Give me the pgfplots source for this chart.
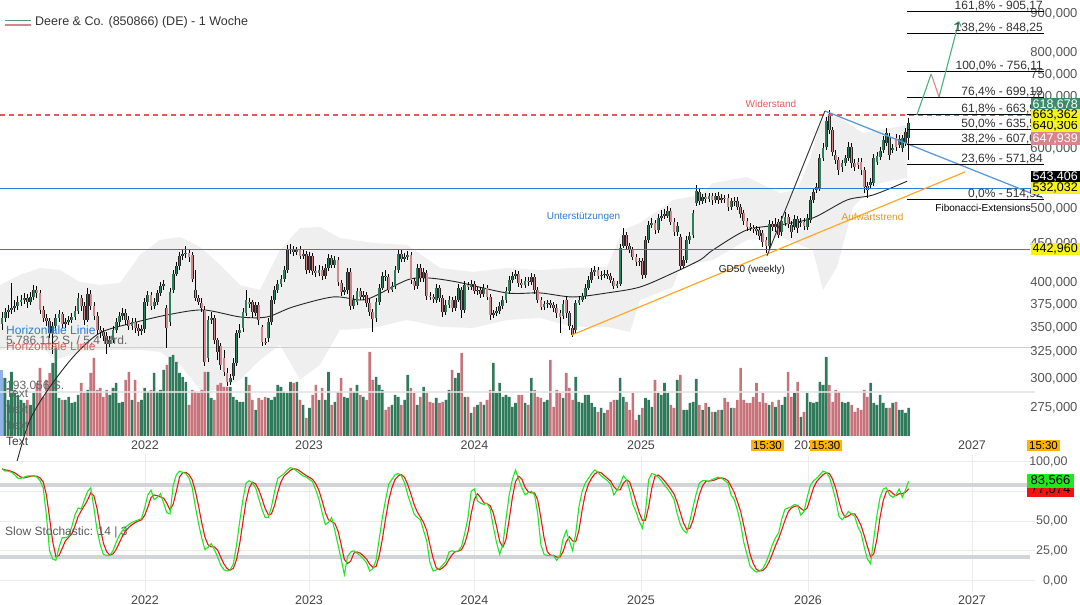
\documentclass[border=0pt]{standalone}
\usepackage{pgfplots}
\pgfplotsset{compat=1.18}
\usepackage{pgfplotstable}
\usepackage{fontspec}
\setmainfont{Liberation Sans}
\usetikzlibrary{arrows.meta}
\newcommand\fs[1]{\fontsize{#1}{#1}\selectfont}
\definecolor{bandgray}{HTML}{EFEFEF}
\definecolor{cgreen}{HTML}{2E7D5B}
\definecolor{cred}{HTML}{D4868D}
\definecolor{vgreen}{HTML}{2F7A5A}
\definecolor{vred}{HTML}{C8737B}
\definecolor{hblue}{HTML}{2F7BD3}
\definecolor{wred}{HTML}{E25B5B}
\definecolor{orng}{HTML}{FFA726}
\definecolor{dblue}{HTML}{5B9BDB}
\definecolor{agreen}{HTML}{4CAF80}
\definecolor{ared}{HTML}{E08585}
\definecolor{stgreen}{HTML}{22E622}
\definecolor{stred}{HTML}{F01414}
\definecolor{bandline}{HTML}{D3D4D8}
\definecolor{gridc}{HTML}{ECECEC}
\definecolor{tickc}{HTML}{555555}
\definecolor{yearc}{HTML}{444444}
\definecolor{boxyel}{HTML}{F4F41C}
\definecolor{boxgrn}{HTML}{3E8B6C}
\definecolor{boxred}{HTML}{D9858D}
\definecolor{boxorg}{HTML}{FFB300}
\definecolor{vline}{HTML}{CFCFCF}
\definecolor{vline2}{HTML}{E2E2E2}
\definecolor{lblue}{HTML}{8FB3E8}

\pgfplotstableread{
i o h l c v k d
0 353.6 366.6 347.2 360.0 3.81 94 94
1 360.0 371.1 355.7 366.6 3.81 92 93
2 366.6 374.4 360.0 368.8 2.37 92 92.7
3 368.8 400.0 364.4 371.1 4.21 91 91.7
4 371.1 380.0 366.6 373.3 3.02 89 90.7
5 373.3 384.6 368.8 377.8 2.70 86 88.7
6 377.8 385.8 373.3 380.0 2.37 86 87
7 380.0 388.2 375.5 382.3 2.17 87 86.3
8 382.3 387.0 371.1 377.8 2.37 88 87
9 377.8 389.3 374.4 383.5 2.04 88 87.7
10 383.5 397.6 380.0 391.7 2.83 88 88
11 391.7 396.4 382.3 388.2 3.48 87 87.7
12 388.2 391.7 364.4 368.8 4.47 84 86.3
13 368.8 373.3 355.7 360.0 2.56 78 83
14 360.0 364.4 351.4 356.7 3.68 55 72.3
15 356.7 360.0 338.9 344.1 4.14 25 52.7
16 344.1 355.7 323.0 351.4 4.80 18 32.7
17 351.4 364.4 347.2 360.0 5.85 17 20
18 360.0 368.8 355.7 364.4 2.50 28 21
19 364.4 366.6 349.3 353.6 2.37 36 27
20 353.6 360.0 349.3 355.7 2.37 36 33.3
21 355.7 362.2 352.5 357.8 2.56 37 36.3
22 357.8 365.5 354.6 361.1 2.17 45 39.3
23 361.1 373.3 357.8 367.7 2.24 55 45.7
24 367.7 388.2 364.4 382.3 2.70 61 53.7
25 382.3 385.8 367.7 373.3 3.48 60 58.7
26 373.3 377.8 352.5 357.8 2.83 68 63
27 357.8 394.1 355.7 387.0 3.02 75 67.7
28 387.0 391.7 368.8 373.3 4.14 78 73.7
29 373.3 377.8 357.8 362.2 5.13 61 71.3
30 362.2 366.6 343.0 347.2 3.02 42 60.3
31 347.2 351.4 338.9 345.1 3.16 30 44.3
32 345.1 349.3 335.9 341.0 2.56 22 31.3
33 341.0 345.1 323.0 332.9 3.02 21 24.3
34 332.9 341.0 329.9 336.9 2.70 21 21.3
35 336.9 351.4 333.9 347.2 3.16 25 22.3
36 347.2 360.0 344.1 355.7 3.48 32 26
37 355.7 366.6 351.4 362.2 2.17 38 31.7
38 362.2 371.1 357.8 365.5 2.24 42 37.3
39 365.5 369.9 352.5 357.8 3.68 45 41.7
40 357.8 362.2 347.2 351.4 4.21 47 44.7
41 351.4 360.0 347.2 355.7 2.37 49 47
42 355.7 360.0 344.1 349.3 3.68 50 48.7
43 349.3 353.6 341.0 346.2 2.24 51 50
44 346.2 352.5 342.0 348.3 2.37 52 51
45 348.3 382.3 344.1 377.8 3.16 61 54.7
46 377.8 390.5 373.3 385.8 2.89 72 61.7
47 385.8 389.3 368.8 373.3 3.02 76 69.7
48 373.3 382.3 369.9 377.8 4.14 68 72
49 377.8 391.7 374.4 388.2 2.89 70 71.3
50 388.2 401.2 384.6 396.4 3.02 73 70.3
51 396.4 403.6 391.7 398.8 4.34 65 69.3
52 371.1 374.4 328.9 349.3 4.67 57 65
53 355.7 394.1 351.4 389.3 5.19 56 59.3
54 391.7 415.9 388.2 411.0 5.33 80 64.3
55 411.0 426.1 408.6 421.0 4.87 89 75
56 421.0 439.2 415.9 433.9 4.14 92 87
57 433.9 441.8 428.7 436.5 3.88 91 90.7
58 436.5 447.2 431.3 437.8 3.55 90 91
59 437.8 443.1 426.1 432.6 2.04 86 89
60 435.2 439.2 401.2 404.8 3.02 78 84.7
61 391.7 415.9 378.9 382.3 2.89 62 75.3
62 382.3 385.8 374.4 377.8 2.83 48 62.7
63 376.7 382.3 366.6 371.1 3.02 36 48.7
64 368.8 373.3 311.6 315.3 4.21 26 36.7
65 319.1 362.2 315.3 357.8 4.21 28 30
66 357.8 366.6 353.6 360.0 2.50 31 28.3
67 360.0 363.3 332.9 336.9 2.37 26 28.3
68 336.9 338.9 317.2 325.0 3.35 20 25.7
69 330.9 333.9 307.8 312.5 3.48 13 19.7
70 319.1 326.9 302.3 306.0 3.22 9 14
71 305.1 309.7 293.3 296.9 3.22 8 10
72 296.9 304.1 294.2 300.5 3.22 9 8.7
73 302.3 319.1 298.7 314.4 2.56 14 10.3
74 314.4 347.2 311.6 344.1 2.37 30 17.7
75 344.1 353.6 338.9 347.2 2.24 50 31.3
76 349.3 371.1 345.1 366.6 2.24 68 49.3
77 365.5 391.7 362.2 380.0 3.88 82 66.7
78 377.8 382.3 371.1 375.5 3.35 84 78
79 377.8 380.0 360.0 366.6 2.37 82 82.7
80 365.5 377.8 362.2 374.4 1.71 78 81.3
81 374.4 377.8 352.5 357.8 2.50 69 76.3
82 350.4 352.5 330.9 334.9 2.37 60 69
83 334.9 338.9 331.9 333.9 2.56 53 60.7
84 338.9 360.0 334.9 355.7 2.50 53 55.3
85 355.7 384.6 352.5 380.0 2.37 62 56
86 380.0 396.4 375.5 391.7 2.56 75 63.3
87 391.7 403.6 388.2 398.8 3.35 86 74.3
88 398.8 409.8 395.2 404.8 3.22 88 83
89 404.8 421.0 401.2 415.9 2.89 90 88
90 415.9 448.5 412.2 441.8 2.83 93 90.3
91 441.8 449.9 436.5 443.1 3.55 95 92.7
92 443.1 447.2 433.9 439.2 3.48 94 94
93 439.2 445.8 435.2 441.8 3.55 92 93.7
94 441.8 447.2 430.0 433.9 2.37 90 92
95 433.9 441.8 430.0 436.5 2.04 88 90
96 436.5 440.5 411.0 415.9 1.18 87 88.3
97 415.9 439.2 412.2 433.9 1.84 85 86.7
98 433.9 437.8 409.8 414.7 2.70 83 85
99 414.7 421.0 407.3 412.2 3.35 76 81.3
100 412.2 422.3 408.6 415.9 2.37 68 75.7
101 415.9 421.0 403.6 408.6 3.16 57 67
102 408.6 423.6 404.8 418.5 2.37 47 57.3
103 418.5 436.5 414.7 431.3 4.21 49 51
104 431.3 435.2 418.5 422.3 2.04 53 49.7
105 422.3 433.9 418.5 428.7 2.24 42 48
106 428.7 432.6 396.4 401.2 2.89 30 41.7
107 400.0 403.6 384.6 389.3 3.81 18 30
108 389.3 395.2 385.8 391.7 2.56 5 17.7
109 391.7 418.5 387.0 413.5 2.50 20 14.3
110 413.5 418.5 368.8 373.3 3.16 24 16.3
111 373.3 385.8 369.9 380.0 2.89 25 23
112 377.8 394.1 374.4 390.5 3.35 23 24
113 390.5 394.1 380.0 383.5 2.70 21 23
114 383.5 390.5 380.0 385.8 2.56 18 20.7
115 385.8 389.3 372.2 376.7 2.37 15 18
116 376.7 381.2 362.2 366.6 5.52 8 13.7
117 366.6 369.9 345.1 358.9 3.68 10 11
118 360.0 382.3 355.7 377.8 3.88 17 11.7
119 377.8 398.8 374.4 394.1 3.35 35 20.7
120 394.1 413.5 391.7 408.6 3.02 53 35
121 408.6 415.9 402.4 407.3 1.71 68 52
122 407.3 411.0 388.2 391.7 1.91 81 67.3
123 391.7 401.2 389.3 396.4 2.04 85 78
124 396.4 421.0 392.9 415.9 2.70 89 85
125 415.9 441.8 412.2 436.5 2.56 90 88
126 436.5 441.8 426.1 430.0 2.04 88 89
127 430.0 437.8 426.1 432.6 2.37 82 86.7
128 432.6 440.5 428.7 435.2 4.01 72 80.7
129 435.2 439.2 398.8 403.6 3.16 64 72.7
130 402.4 406.1 391.7 396.4 2.83 56 64
131 396.4 423.6 392.9 418.5 2.04 53 57.7
132 418.5 423.6 401.2 406.1 2.56 51 53.3
133 406.1 418.5 401.2 413.5 3.22 42 48.7
134 412.2 415.9 380.0 384.6 2.83 33 42
135 384.6 389.3 380.0 383.5 2.24 15 30
136 383.5 387.0 376.7 381.2 2.17 8 18.7
137 380.0 398.8 376.7 394.1 2.50 9 10.7
138 394.1 397.6 377.8 382.3 2.17 10 9
139 382.3 385.8 361.1 366.6 2.24 13 10.7
140 366.6 380.0 363.3 374.4 2.37 16 13
141 374.4 384.6 371.1 380.0 3.02 24 17.7
142 380.0 383.5 366.6 371.1 4.34 25 21.7
143 371.1 384.6 367.7 380.0 3.81 24 24.3
144 380.0 398.8 377.8 394.1 4.14 25 24.7
145 391.7 395.2 360.0 368.8 5.46 29 26
146 368.8 402.4 365.5 397.6 2.56 40 31.3
147 397.6 401.2 391.7 395.2 2.56 53 40.7
148 395.2 403.6 391.7 398.8 1.51 75 56
149 398.8 402.4 387.0 390.5 1.91 77 68.3
150 390.5 395.2 385.8 391.7 2.04 67 73
151 391.7 395.2 382.3 387.0 2.24 65 69.7
152 387.0 398.8 383.5 394.1 2.04 64 65.3
153 394.1 397.6 380.0 383.5 2.37 65 64.7
154 383.5 387.0 357.8 363.3 3.02 60 63
155 363.3 368.8 360.0 365.5 4.80 45 56.7
156 365.5 372.2 362.2 367.7 2.83 32 45.7
157 367.7 377.8 364.4 373.3 3.48 22 33
158 373.3 384.6 369.9 380.0 2.56 30 28
159 380.0 395.2 376.7 390.5 2.70 52 34.7
160 390.5 408.6 387.0 403.6 2.56 72 51.3
161 403.6 413.5 400.0 408.6 1.91 85 69.7
162 408.6 415.9 404.8 411.0 2.17 93 83.3
163 411.0 414.7 395.2 400.0 2.70 85 87.7
164 400.0 404.8 394.1 397.6 2.70 78 85.3
165 397.6 407.3 394.1 402.4 2.17 72 78.3
166 402.4 407.3 396.4 401.2 2.04 74 74.7
167 401.2 412.2 397.6 407.3 3.81 75 73.7
168 407.3 411.0 387.0 391.7 3.02 72 73.7
169 391.7 395.2 376.7 380.0 2.56 56 67.7
170 380.0 383.5 368.8 372.2 2.50 30 52.7
171 372.2 378.9 368.8 375.5 2.24 22 36
172 375.5 380.0 371.1 376.7 2.37 21 24.3
173 376.7 380.0 371.1 374.4 5.00 21 21.3
174 374.4 377.8 366.6 371.1 1.91 21 21
175 371.1 375.5 360.0 365.5 3.02 17 19.7
176 365.5 368.8 344.1 361.1 2.83 21 19.7
177 362.2 380.0 358.9 375.5 2.50 35 24.3
178 380.0 384.6 360.0 365.5 4.14 42 32.7
179 365.5 367.7 347.2 351.4 3.16 33 36.7
180 349.3 352.5 339.9 342.0 2.37 25 33.3
181 347.2 380.0 344.1 376.7 3.88 40 32.7
182 376.7 384.6 374.4 380.0 2.24 62 42.3
183 380.0 388.2 377.8 384.6 2.17 75 59
184 384.6 398.8 381.2 394.1 2.70 82 73
185 394.1 408.6 391.7 403.6 2.70 86 81
186 403.6 418.5 400.0 413.5 2.17 90 86
187 413.5 421.0 408.6 415.9 1.91 93 89.7
188 415.9 419.8 404.8 408.6 1.58 91 91.3
189 408.6 414.7 403.6 409.8 1.84 88 90.7
190 409.8 415.9 406.1 411.0 1.51 86 88.3
191 411.0 415.9 404.8 408.6 1.71 84 86
192 408.6 412.2 400.0 403.6 2.24 81 83.7
193 402.4 406.1 392.9 396.4 2.37 72 79
194 396.4 402.4 394.1 398.8 2.37 76 76.3
195 398.8 449.9 396.4 444.5 3.81 81 76.3
196 447.2 472.1 444.5 462.2 2.56 88 81.7
197 462.2 466.5 443.1 447.2 2.24 85 84.7
198 447.2 451.2 437.8 441.8 1.71 76 83
199 441.8 445.8 428.7 432.6 2.83 64 75
200 432.6 436.5 421.0 426.1 1.05 58 66
201 426.1 431.3 421.0 427.4 1.38 50 57.3
202 427.4 431.3 404.8 409.8 1.84 44 50.7
203 409.8 460.8 406.1 455.3 2.50 58 50.7
204 455.3 482.2 451.2 476.4 2.37 85 62.3
205 476.4 486.5 472.1 479.3 1.91 90 77.7
206 479.3 483.6 463.7 469.3 3.68 89 88
207 469.3 492.4 465.1 486.5 2.83 87 88.7
208 486.5 498.4 482.2 489.4 2.70 84 86.7
209 489.4 499.9 485.1 492.4 3.48 80 83.7
210 489.4 504.4 486.5 496.9 2.83 77 80.3
211 496.9 501.4 476.4 480.7 2.04 73 76.7
212 480.7 486.5 460.8 466.5 1.84 68 72.7
213 466.5 480.7 460.8 475.0 3.68 56 65.7
214 459.4 463.7 415.9 421.0 4.01 47 57
215 421.0 433.9 418.5 428.7 1.71 42 48.3
216 428.7 460.8 424.9 455.3 1.71 40 43
217 455.3 466.5 449.9 460.8 2.17 50 44
218 462.2 498.4 458.1 493.9 2.24 62 50.7
219 509.0 537.3 504.4 527.7 3.75 73 61.7
220 526.1 532.5 505.9 512.1 2.04 82 72.3
221 512.1 523.0 507.4 518.3 1.71 84 79.7
222 518.3 524.6 509.0 515.2 2.17 84 83.3
223 515.2 524.6 510.5 519.8 1.91 83 83.7
224 519.8 524.6 505.9 513.6 1.58 85 84
225 513.6 524.6 509.0 519.8 1.58 86 84.7
226 519.8 526.1 507.4 513.6 1.71 87 86
227 513.6 523.0 509.0 516.7 1.71 86 86.3
228 516.7 521.4 509.0 515.2 2.50 84 85.7
229 516.7 523.0 496.9 502.9 2.24 82 84
230 502.9 516.7 498.4 512.1 1.84 72 79.3
231 512.1 518.3 504.4 510.5 1.84 68 74
232 512.1 518.3 498.4 502.9 2.37 59 66.3
233 502.9 507.4 486.5 492.4 4.47 48 58.3
234 493.9 498.4 476.4 482.2 2.37 32 46.3
235 482.2 486.5 467.9 473.5 2.17 22 34
236 473.5 479.3 467.9 472.1 2.17 12 22
237 472.1 476.4 465.1 470.7 2.56 9 14.3
238 470.7 475.0 462.2 467.9 3.48 7 9.3
239 469.3 473.5 455.3 460.8 2.24 8 8
240 465.1 469.3 445.8 452.6 2.83 10 8.3
241 455.3 459.4 437.8 447.2 2.17 15 11
242 447.2 483.6 443.1 477.8 2.04 22 15.7
243 477.8 482.2 467.9 473.5 2.24 30 22.3
244 473.5 486.5 466.5 477.8 1.91 36 29.3
245 480.7 485.1 458.1 462.2 2.37 40 35.3
246 466.5 489.4 460.8 482.2 2.04 52 42.7
247 479.3 495.4 475.0 488.0 2.56 60 50.7
248 488.0 492.4 472.1 477.8 4.21 61 57.7
249 476.4 482.2 458.1 466.5 2.56 62 61
250 473.5 490.9 469.3 485.1 2.83 64 62.3
251 485.1 489.4 465.1 472.1 3.55 63 63
252 479.3 486.5 473.5 480.7 1.25 55 60.7
253 480.7 486.5 469.3 475.0 1.58 58 58.7
254 473.5 492.4 469.3 486.5 2.83 70 61
255 483.6 519.8 479.3 513.6 2.24 80 69.3
256 513.6 532.5 509.0 526.1 2.17 84 78
257 529.3 540.6 524.6 534.1 2.24 86 83.3
258 532.5 590.0 527.7 582.9 3.55 89 86.3
259 582.9 609.8 577.7 600.8 3.35 92 89
260 602.6 659.5 597.1 651.6 5.19 91 90.7
261 661.5 673.6 626.6 634.2 3.35 87 90
262 634.2 640.0 586.4 593.6 2.24 78 85.3
263 588.2 597.1 572.4 579.4 3.02 68 77.7
264 579.4 584.7 553.8 562.2 2.89 54 66.7
265 567.3 579.4 558.9 574.2 2.24 51 57.7
266 574.2 588.2 569.0 582.9 2.17 54 53
267 582.9 611.7 577.7 602.6 2.24 58 54.3
268 602.6 609.8 565.6 574.2 2.04 56 56
269 574.2 581.2 560.5 567.3 1.58 54 56
270 575.9 582.9 563.9 570.7 1.84 45 51.7
271 575.9 582.9 553.8 562.2 1.71 40 46.3
272 562.2 567.3 524.6 534.1 3.02 28 37.7
273 535.7 542.3 516.7 529.3 2.56 18 28.7
274 537.3 548.8 530.9 542.3 3.48 14 20
275 540.6 590.0 535.7 582.9 2.17 35 22.3
276 575.9 593.6 570.7 586.4 2.04 55 34.7
277 584.7 602.6 579.4 595.4 2.70 70 53.3
278 597.1 622.8 591.8 615.3 2.17 77 67.3
279 609.8 638.1 604.4 628.5 1.84 78 75
280 620.9 628.5 579.4 588.2 1.84 72 75.7
281 597.1 608.0 591.8 600.8 2.17 70 73.3
282 619.1 626.6 595.4 602.6 2.24 72 71.3
283 606.2 624.7 600.8 617.2 1.71 77 73
284 600.8 624.7 593.6 619.1 1.71 70 73
285 609.8 638.1 604.4 630.4 1.51 76 74.3
286 619.1 657.5 579.4 647.9 1.84 83.6 77.1
}\data

\begin{document}
\begin{tikzpicture}[x=1pt,y=1pt]
\path[use as bounding box] (0,0) rectangle (1080,605);

% ---- A: envelope band
\begin{axis}[scale only axis, width=1035pt, height=437pt, xmin=-0.631, xmax=325.87,
  ymode=log, ymin=251.5, ymax=938.2, at={(0pt,168pt)}, anchor=south west, hide axis]
\addplot[fill=bandgray, draw=none] coordinates {
(-0.6,397.6)(5.7,409.8)(12,418.5)(18.3,415.9)(24.6,401.2)(30.9,397.6)(37.2,400.0)(43.5,435.2)(49.8,455.3)(56.2,459.4)(62.5,445.8)(68.8,422.3)(75.1,397.6)(81.4,391.7)(87.7,441.8)(94,472.1)(100.3,473.5)(106.6,458.1)(117,451.2)(127.8,448.5)(138.2,418.5)(148.6,413.5)(159.3,418.5)(169.7,415.9)(180.1,418.5)(190.9,419.8)(195.9,469.3)(201.3,479.3)(211.7,513.6)(220.2,521.4)(224.3,540.6)(235,550.5)(245.4,524.6)(250.8,529.3)(254.9,579.4)(257.4,634.2)(260,663.5)(264.4,657.5)(271.6,628.5)(282.3,640.0)(285.5,643.8)
(285.5,548.8)(277,540.6)(272.9,524.6)(268.5,502.9)(263.4,419.8)(259,391.7)(255.8,441.8)(245.4,459.4)(235,455.3)(224.3,428.7)(213.9,419.8)(211.7,395.2)(201.3,380.0)(198.1,345.1)(190.9,350.4)(180.1,350.4)(169.7,360.0)(159.3,357.8)(148.6,349.3)(138.2,350.4)(127.8,357.8)(117,349.3)(106.6,347.2)(100.3,312.5)(94,298.7)(87.7,331.9)(81.4,317.2)(75.1,298.7)(68.8,289.8)(62.5,289.8)(56.2,312.5)(49.8,325.0)(43.5,326.9)(37.2,326.9)(30.9,326.9)(24.6,325.0)(16.7,317.2)(12,331.9)(5.7,331.9)(-0.6,326.9)
};
\end{axis}

% ---- B: volume
\begin{axis}[scale only axis, width=1035pt, height=437pt, xmin=-0.631, xmax=325.87,
  ymin=-0.07, ymax=28.66, at={(0pt,168pt)}, anchor=south west, hide axis]
\addplot[ybar, bar width=2.6pt, bar shift=0pt, fill=vgreen, draw=none,
  restrict expr to domain={\thisrow{c}-\thisrow{o}}{0:100000}] table[x=i, y=v]{\data};
\addplot[ybar, bar width=2.6pt, bar shift=0pt, fill=vred, draw=none,
  restrict expr to domain={\thisrow{c}-\thisrow{o}}{-100000:-0.00001}] table[x=i, y=v]{\data};
\addplot[ybar, bar width=3pt, bar shift=0pt, fill=lblue, draw=none] coordinates {(-0.16,4.34)};
\addplot[vline, line width=1pt] coordinates {(-0.631,5.786)(325.87,5.786)};
\addplot[vline2, line width=2pt, opacity=0.8] coordinates {(-0.631,2.893)(325.87,2.893)};
\end{axis}

% ---- C: price panel
\begin{axis}[scale only axis, width=1035pt, height=437pt, xmin=-0.631, xmax=325.87,
  ymode=log, ymin=251.5, ymax=938.2, at={(0pt,168pt)}, anchor=south west, clip=false,
  axis line style={draw=none}, major tick length=0pt,
  ytick={275,300,325,350,375,400,450,500,550,600,650,700,750,800,900},
  yticklabels={{275,000},{300,000},{325,000},{350,000},{375,000},{400,000},{450,000},{500,000},{550,000},{600,000},{650,000},{700,000},{750,000},{800,000},{900,000}},
  yticklabel pos=right,
  yticklabel style={anchor=east, xshift=46pt, font=\fs{13}, text=tickc},
  xtick={45.11,96.85,149.05,201.58,254.26,306.0},
  xticklabels={2022,2023,2024,2025,2026,2027},
  xticklabel style={anchor=center, yshift=-8pt, font=\fs{12.5}, text=yearc}]
% GD50
\addplot[black!85, line width=0.9pt, smooth] coordinates {
(4.7,233.3)(8.8,264.7)(15.1,292.4)(23,322.0)(30.9,344.1)(41.3,354.6)(52.1,363.3)(63.4,368.8)(75.1,361.1)(83.6,361.1)(91.8,372.2)(104.4,383.5)(112.9,380.0)(117,383.5)(127.8,403.6)(134.1,406.1)(143.5,401.2)(159.3,388.2)(169.7,388.2)(180.1,383.5)(190.9,388.2)(201.3,395.2)(211.7,412.2)(220.2,428.7)(224.3,441.8)(235,469.3)(245.4,476.4)(255.8,486.5)(266.6,513.6)(274.8,521.4)(285.5,543.4)};
% candles: wicks
\addplot[draw=none, mark=none, error bars/.cd, y dir=plus, y explicit, error mark=none,
  error bar style={draw=black, line width=0.8pt}]
  table[x=i, y=l, y error plus expr={\thisrow{h}-\thisrow{l}}]{\data};
% bodies outline
\addplot[draw=none, mark=none, error bars/.cd, y dir=plus, y explicit, error mark=none,
  error bar style={draw=black!85, line width=2.8pt}]
  table[x=i, y expr={min(\thisrow{o},\thisrow{c})}, y error plus expr={abs(\thisrow{c}-\thisrow{o})}]{\data};
\addplot[draw=none, mark=none, restrict expr to domain={\thisrow{c}-\thisrow{o}}{0:100000},
  error bars/.cd, y dir=plus, y explicit, error mark=none,
  error bar style={draw=cgreen, line width=1.6pt}]
  table[x=i, y=o, y error plus expr={\thisrow{c}-\thisrow{o}}]{\data};
\addplot[draw=none, mark=none, restrict expr to domain={\thisrow{c}-\thisrow{o}}{-100000:-0.00001},
  error bars/.cd, y dir=plus, y explicit, error mark=none,
  error bar style={draw=cred, line width=1.6pt}]
  table[x=i, y=c, y error plus expr={\thisrow{o}-\thisrow{c}}]{\data};
% horizontal lines
\addplot[wred, line width=1.2pt, dash pattern=on 5pt off 4pt] coordinates {(-0.631,663.362)(327.4,663.362)};
\addplot[hblue, line width=1pt] coordinates {(-0.631,532.032)(328,532.032)};
\addplot[hblue, line width=1pt] coordinates {(-0.631,442.96)(324.3,442.96)};
% trend lines
\addplot[orng, line width=1.2pt] coordinates {(179.8,342.0)(303.8,558.9)};
\addplot[dblue, line width=1.3pt] coordinates {(259.6,671.6)(328.4,516.7)};
\addplot[black!80, line width=0.9pt] coordinates {(241.3,433.9)(259.6,671.6)};
% fibonacci levels
\addplot[black, line width=0.9pt] coordinates {(285.5,905.17)(328.7,905.17)};
\addplot[black, line width=0.9pt] coordinates {(285.5,848.25)(328.7,848.25)};
\addplot[black, line width=0.9pt] coordinates {(285.5,756.11)(328.7,756.11)};
\addplot[black, line width=0.9pt] coordinates {(285.5,699.19)(328.7,699.19)};
\addplot[black, line width=0.9pt] coordinates {(285.5,663.98)(328.7,663.98)};
\addplot[black, line width=0.9pt] coordinates {(285.5,635.52)(328.7,635.52)};
\addplot[black, line width=0.9pt] coordinates {(285.5,607.06)(328.7,607.06)};
\addplot[black, line width=0.9pt] coordinates {(285.5,571.84)(328.7,571.84)};
\addplot[black, line width=0.9pt] coordinates {(285.5,514.92)(328.7,514.92)};
% projected path
\addplot[agreen, line width=1.1pt] coordinates {(288.6,663.5)(293.1,750.7)};
\addplot[ared, line width=1.1pt] coordinates {(293.1,750.7)(295.6,700.4)};
\addplot[agreen, line width=1.1pt, -{Straight Barb[length=4pt,width=7pt]}] coordinates {(295.6,700.4)(301.9,880.6)};
\end{axis}

% ---- D: slow stochastic
\begin{axis}[scale only axis, width=1035pt, height=137pt, xmin=-0.631, xmax=325.87,
  ymin=-9.68, ymax=105.6, at={(0pt,13pt)}, anchor=south west, clip=false,
  axis line style={draw=none}, major tick length=0pt,
  ytick={0,25,50,75,100}, yticklabels={{0,00},{25,00},{50,00},{75,00},{100,00}},
  yticklabel pos=right,
  yticklabel style={anchor=east, xshift=36pt, font=\fs{12.5}, text=tickc},
  xtick={45.11,96.85,149.05,201.58,254.26,306.0},
  xticklabels={2022,2023,2024,2025,2026,2027},
  xticklabel style={anchor=center, yshift=-8pt, font=\fs{12.5}, text=yearc},
  ymajorgrids, xmajorgrids, grid style={draw=gridc, line width=0.8pt}]
\addplot[bandline, line width=4pt] coordinates {(-0.631,80)(324.3,80)};
\addplot[bandline, line width=4pt] coordinates {(-0.631,20)(324.3,20)};
\addplot[stred, line width=1.1pt] table[x=i, y=d]{\data};
\addplot[stgreen, line width=1.1pt] table[x=i, y=k]{\data};
\end{axis}

% ---- texts and value boxes
\draw[color=cgreen!80, line width=1.6pt] (5,584.5) -- (31,584.5);
\draw[color=cred, line width=1.6pt] (5,580) -- (31,580);
\node[anchor=west, inner sep=0, font=\fs{12.5}, text=black!80] at (35,583) {Deere \& Co. (850866) (DE) - 1 Woche};

\node[inner sep=0, font=\fs{10}, text=wred] at (771,501) {Widerstand};
\node[inner sep=0, font=\fs{10}, text=hblue] at (583.5,388) {Unterstützungen};
\node[inner sep=0, font=\fs{10}, text=orng!90!black] at (872.5,388) {Aufwärtstrend};
\node[inner sep=0, font=\fs{10}, text=black!90] at (752,335) {GD50 (weekly)};

\begin{scope}[every node/.style={anchor=base east, inner sep=0, font=\fs{12}, text=black!80}]
\node at (1043,595) {161,8\% - 905,17};
\node at (1043,573.6) {138,2\% - 848,25};
\node at (1043,535.4) {100,0\% - 756,11};
\node at (1043,509.4) {76,4\% - 699,19};
\node at (1043,492.2) {61,8\% - 663,98};
\node at (1043,477.7) {50,0\% - 635,52};
\node at (1043,462.5) {38,2\% - 607,06};
\node at (1043,442.7) {23,6\% - 571,84};
\node at (1043,407.8) {0,0\% - 514,92};
\end{scope}
\node[fill=white, inner sep=0.6pt, font=\fs{10}, text=black] at (983,397) {Fibonacci-Extensions};

\begin{scope}[every node/.style={anchor=east, inner xsep=2pt, inner ysep=1.2pt, font=\fs{12.5}}]
\node[fill=boxgrn, text=white] at (1080,500.5) {618,678};
\node[fill=boxyel, text=black] at (1080,479) {640,306};
\node[fill=boxyel, text=black] at (1080,490) {663,362};
\node[fill=boxred, text=white] at (1080,466.5) {647,939};
\node[fill=black, text=white] at (1080,428) {543,406};
\node[fill=boxyel, text=black] at (1080,417) {532,032};
\node[fill=boxyel, text=black] at (1080,356) {442,960};
\end{scope}

\begin{scope}[every node/.style={minimum width=47pt, inner xsep=2pt, inner ysep=1.2pt, font=\fs{13}}]
\node[fill=stred, text=black] at (1050.5,115) {77,074};
\node[fill=stgreen, text=black] at (1050.5,124) {83,566};
\end{scope}

\begin{scope}[every node/.style={fill=boxorg, text=black, inner xsep=2pt, inner ysep=1.5pt, font=\fs{11.5}}]
\node at (767.5,159.5) {15:30};
\node at (826,159.5) {15:30};
\node at (1043.5,159.5) {15:30};
\end{scope}

\begin{scope}[every node/.style={anchor=west, inner sep=0, font=\fs{12}}]
\node[text=hblue] at (6,275) {Horizontale Linie};
\node[text=black!60] at (6,264) {5.786.112 S. / 5,4 Mrd.};
\node[text=wred] at (6,259) {Horizontale Linie};
\node[text=black!60] at (6,220) {193.056 S.};
\node[text=black!60] at (6,211.5) {Text};
\node[text=black!60] at (6,195.5) {Text};
\node[text=black!60] at (6,179.5) {Text};
\node[text=black!75] at (6,163.5) {Text};
\node[text=black!65] at (5,73) {Slow Stochastic: 14 | 3};
\end{scope}
\end{tikzpicture}
\end{document}
